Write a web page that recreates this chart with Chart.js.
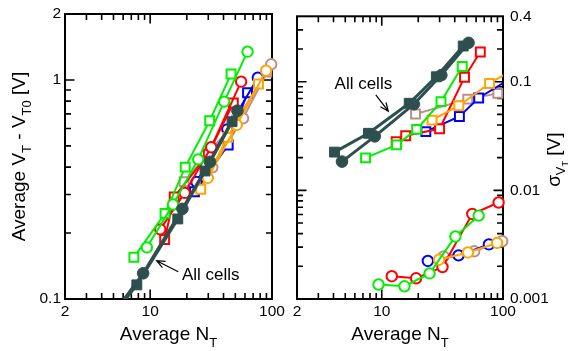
<!DOCTYPE html>
<html><head><meta charset="utf-8">
<script src="https://cdn.jsdelivr.net/npm/chart.js@4.4.1/dist/chart.umd.min.js"></script>
<style>
html,body{margin:0;padding:0;background:#fff;}
#wrap{position:relative;width:570px;height:351px;background:#fff;}
canvas{position:absolute;left:0;top:0;}
</style></head><body>
<div id="wrap"><canvas id="cL" width="570" height="351"></canvas><canvas id="cR" width="570" height="351"></canvas></div>
<script>
// ---------- data ----------
const xTickLabels = [2, 10, 100];
const yTicksLeft = [0.1, 1, 2];
const yTicksRight = [0.001, 0.01, 0.1, 0.4];

const allSqX = [4.08, 7.77, 16.85, 28.2, 47.0];
const allSqLeft = [0.073, 0.116, 0.232, 0.384, 0.645];
const allSqRight = [0.0225, 0.0335, 0.0633, 0.111, 0.213];
const allCiX = [4.70, 8.76, 18.4, 31.0, 52.0];
const allCiLeft = [0.082, 0.131, 0.258, 0.423, 0.724];
const allCiRight = [0.0184, 0.0314, 0.062, 0.115, 0.228];
const greenSqX = [7.35, 13.25, 19.4, 30.8, 46.1];
const greenSqLeft = [0.155, 0.246, 0.400, 0.651, 1.064];
const greenSqRight = [0.0199, 0.0262, 0.0364, 0.0656, 0.138];
const greenCiX = [9.4, 15.4, 24.8, 40.5, 63];
const greenCiLeft = [0.172, 0.270, 0.434, 0.796, 1.346];
const greenCiRight = [0.00136, 0.00131, 0.00172, 0.00376, 0.00585];
const redSqX = [13.15, 15.75, 30, 48.15, 65];
const redSqLeft = [0.187, 0.292, 0.459, 0.785, null];
const redSqRight = [0.0280, 0.0318, 0.0369, 0.1098, 0.1877];
const redCiX = [12.1, 19.2, 31.7, 55.8, 92];
const redCiLeft = [0.208, 0.305, 0.493, 0.982, null];
const redCiRight = [0.00162, 0.00155, 0.00197, 0.00606, 0.00773];
const blueSqX = [23.1, 43.7, 63, 126];
const blueSqLeft = [0.309, 0.505, 0.874, null];
const blueSqRight = [0.0347, 0.0479, 0.0709, 0.1138];
const blueCiX = [24.0, 43.0, 76.5];
const blueCiLeft = [0.342, 0.595, 1.024];
const blueCiRight = [0.00224, 0.00252, 0.00318];
const orangeSqX = [26, 43.2, 77.5, 126];
const orangeSqLeft = [0.317, 0.547, 0.958, null];
const orangeSqRight = [0.0443, 0.0601, 0.0964, 0.1327];
const orangeCiX = [29.7, 51.4, 89.4];
const orangeCiLeft = [0.357, 0.623, 1.102];
const orangeCiRight = [0.00230, 0.00268, 0.00328];
const brownSqX = [19.0, 51.2, 90.6];
const brownSqLeft = [0.343, 0.656, 1.087];
const brownSqRight = [0.0504, 0.0691, 0.0781];
const brownCiX = [32.4, 57.9, 98.5];
const brownCiLeft = [0.399, 0.668, 1.179];
const brownCiRight = [0.00247, 0.00275, 0.0034];

// annotation anchors (data coordinates)
const noteLeft = {text: 'All cells', x: 18.25, y: 0.1221, tail: [17.0, 0.1332], tip: [11.3, 0.1496]};
const noteRight = {text: 'All cells', x: 4.08, y: 0.0862, tail: [8.93, 0.0755], tip: [11.32, 0.0535]};

// ---------- styling ----------
const FONT = '"Liberation Sans", Arial, Helvetica, sans-serif';
const C = {dark: '#2f4f4f', green: '#00f000', red: '#ff0000', blue: '#0000ff', orange: '#ffa500', brown: '#bc8f8f'};

function ds(xs, ys, color, style, opts = {}) {
  const dark = !!opts.dark;
  return {
    data: xs.map((x, i) => ({x: x, y: ys[i]})),
    borderColor: color,
    backgroundColor: dark ? color : '#fff',
    pointBackgroundColor: dark ? color : '#fff',
    pointBorderColor: color,
    pointStyle: style,
    pointRadius: style === 'rect' ? (dark ? 7 : 6.3) : (dark ? 5.8 : 5.2),
    pointBorderWidth: dark ? 1 : 2,
    borderWidth: dark ? 3 : 2,
    tension: 0,
    spanGaps: false,
    clip: opts.clip || {left: 8, top: 8, right: 8, bottom: 0}
  };
}

function minorTicks(min, max) {
  const out = [];
  for (let e = -4; e <= 3; e++) {
    for (let m = 1; m <= 9; m++) {
      const v = +(m * Math.pow(10, e)).toPrecision(6);
      if (v > min * 1.0001 && v < max * 0.9999) out.push({v: v, major: m === 1});
    }
  }
  return out;
}

const framePlugin = {
  id: 'frame',
  beforeDatasetsDraw(chart) {
    const {ctx, chartArea: a, scales} = chart;
    ctx.save();
    ctx.strokeStyle = '#000';
    ctx.lineWidth = 1.6;
    ctx.beginPath();
    minorTicks(scales.x.min, scales.x.max).forEach(t => {
      const p = scales.x.getPixelForValue(t.v);
      const L = t.major ? 9.5 : 6;
      ctx.moveTo(p, a.bottom); ctx.lineTo(p, a.bottom - L);
      ctx.moveTo(p, a.top); ctx.lineTo(p, a.top + L);
    });
    minorTicks(scales.y.min, scales.y.max).forEach(t => {
      const p = scales.y.getPixelForValue(t.v);
      const L = t.major ? 9.5 : 6;
      ctx.moveTo(a.left, p); ctx.lineTo(a.left + L, p);
      ctx.moveTo(a.right, p); ctx.lineTo(a.right - L, p);
    });
    ctx.stroke();
    ctx.lineWidth = 2;
    ctx.strokeRect(a.left, a.top, a.right - a.left, a.bottom - a.top);
    ctx.restore();
  }
};

function drawParts(ctx, parts, cx, cy, angle) {
  ctx.save();
  ctx.translate(cx, cy);
  ctx.rotate(angle);
  let total = 0;
  parts.forEach(p => { ctx.font = p.size + 'px ' + FONT; p.w = ctx.measureText(p.t).width; total += p.w; });
  let x = -total / 2;
  ctx.textBaseline = 'alphabetic';
  ctx.textAlign = 'left';
  ctx.fillStyle = '#000';
  parts.forEach(p => { ctx.font = p.size + 'px ' + FONT; ctx.fillText(p.t, x, p.dy); x += p.w; });
  ctx.restore();
}

function drawNote(chart, note) {
  const {ctx, scales} = chart;
  const X = v => scales.x.getPixelForValue(v), Y = v => scales.y.getPixelForValue(v);
  ctx.save();
  ctx.fillStyle = '#000';
  ctx.font = '17px ' + FONT;
  ctx.textBaseline = 'alphabetic';
  ctx.textAlign = 'left';
  ctx.fillText(note.text, X(note.x), Y(note.y));
  const x1 = X(note.tail[0]), y1 = Y(note.tail[1]), x2 = X(note.tip[0]), y2 = Y(note.tip[1]);
  ctx.strokeStyle = '#000';
  ctx.lineWidth = 1.2;
  ctx.beginPath();
  ctx.moveTo(x1, y1); ctx.lineTo(x2, y2);
  const ang = Math.atan2(y1 - y2, x1 - x2);
  const hl = 9, ha = 0.4;
  ctx.moveTo(x2 + hl * Math.cos(ang + ha), y2 + hl * Math.sin(ang + ha));
  ctx.lineTo(x2, y2);
  ctx.lineTo(x2 + hl * Math.cos(ang - ha), y2 + hl * Math.sin(ang - ha));
  ctx.stroke();
  ctx.restore();
}

function xScale() {
  return {
    type: 'logarithmic', position: 'bottom', min: 2, max: 100,
    grid: {display: false, drawTicks: false}, border: {display: false},
    ticks: {color: '#000', font: {family: FONT, size: 15.5}, padding: 3, maxRotation: 0, autoSkip: false,
      callback: v => String(v)},
    afterBuildTicks: s => { s.ticks = xTickLabels.map(v => ({value: v})); },
    afterFit: s => { s.height = 52; }
  };
}

function yScale(ticks, min, max, pos, width, pad) {
  return {
    type: 'logarithmic', position: pos, min: min, max: max,
    grid: {display: false, drawTicks: false}, border: {display: false},
    ticks: {color: '#000', font: {family: FONT, size: 15.5}, padding: pad, autoSkip: false,
      callback: v => String(v)},
    afterBuildTicks: s => { s.ticks = ticks.map(v => ({value: v})); },
    afterFit: s => { s.width = width; }
  };
}

const common = {
  responsive: false, animation: false, devicePixelRatio: 1,
  plugins: {legend: {display: false}, tooltip: {enabled: false}},
  events: []
};

// ---------- left panel ----------
const leftTitles = {
  id: 'leftTitles',
  afterDraw(chart) {
    const a = chart.chartArea;
    drawParts(chart.ctx, [{t: 'Average N', size: 19, dy: 0}, {t: 'T', size: 13, dy: 7}], (a.left + a.right) / 2, 340, 0);
    drawParts(chart.ctx, [
      {t: 'Average V', size: 19, dy: 0}, {t: 'T', size: 13, dy: 6},
      {t: ' - V', size: 19, dy: 0}, {t: 'T0', size: 13, dy: 6},
      {t: ' [V]', size: 19, dy: 0}], 25, (a.top + a.bottom) / 2, -Math.PI / 2);
    drawNote(chart, noteLeft);
  }
};

new Chart(document.getElementById('cL'), {
  type: 'line',
  data: {datasets: [
    ds(allCiX, allCiLeft, C.dark, 'circle', {dark: true}),
    ds(allSqX, allSqLeft, C.dark, 'rect', {dark: true}),
    ds(greenCiX, greenCiLeft, C.green, 'circle'),
    ds(greenSqX, greenSqLeft, C.green, 'rect'),
    ds(orangeCiX, orangeCiLeft, C.orange, 'circle'),
    ds(orangeSqX, orangeSqLeft, C.orange, 'rect'),
    ds(redCiX, redCiLeft, C.red, 'circle'),
    ds(redSqX, redSqLeft, C.red, 'rect'),
    ds(blueCiX, blueCiLeft, C.blue, 'circle'),
    ds(blueSqX, blueSqLeft, C.blue, 'rect'),
    ds(brownCiX, brownCiLeft, C.brown, 'circle'),
    ds(brownSqX, brownSqLeft, C.brown, 'rect')
  ]},
  options: Object.assign({}, common, {
    layout: {padding: {left: 0, top: 14, right: 298, bottom: 0}},
    scales: {x: xScale(), y: yScale(yTicksLeft, 0.1, 2, 'left', 65, 4)}
  }),
  plugins: [framePlugin, leftTitles]
});

// ---------- right panel ----------
const rightTitles = {
  id: 'rightTitles',
  afterDraw(chart) {
    const a = chart.chartArea;
    drawParts(chart.ctx, [{t: 'Average N', size: 19, dy: 0}, {t: 'T', size: 13, dy: 7}], (a.left + a.right) / 2, 340, 0);
    drawParts(chart.ctx, [
      {t: 'σ', size: 19, dy: 0}, {t: 'V', size: 13, dy: 5}, {t: 'T', size: 9, dy: 8},
      {t: ' [V]', size: 19, dy: 0}], 560, (a.top + a.bottom) / 2 + 2, -Math.PI / 2);
    drawNote(chart, noteRight);
  }
};

const edgeClip = {left: 8, top: 8, right: 0, bottom: 0};
new Chart(document.getElementById('cR'), {
  type: 'line',
  data: {datasets: [
    ds(allCiX, allCiRight, C.dark, 'circle', {dark: true}),
    ds(allSqX, allSqRight, C.dark, 'rect', {dark: true}),
    ds(greenCiX, greenCiRight, C.green, 'circle'),
    ds(greenSqX, greenSqRight, C.green, 'rect'),
    ds(orangeCiX, orangeCiRight, C.orange, 'circle'),
    ds(orangeSqX, orangeSqRight, C.orange, 'rect', {clip: edgeClip}),
    ds(redCiX, redCiRight, C.red, 'circle'),
    ds(redSqX, redSqRight, C.red, 'rect'),
    ds(blueCiX, blueCiRight, C.blue, 'circle'),
    ds(blueSqX, blueSqRight, C.blue, 'rect', {clip: edgeClip}),
    ds(brownCiX, brownCiRight, C.brown, 'circle'),
    ds(brownSqX, brownSqRight, C.brown, 'rect')
  ]},
  options: Object.assign({}, common, {
    layout: {padding: {left: 297, top: 14, right: 0, bottom: 0}},
    scales: {x: xScale(), y: yScale(yTicksRight, 0.001, 0.4, 'right', 67, 7)}
  }),
  plugins: [framePlugin, rightTitles]
});
</script>
</body></html>
